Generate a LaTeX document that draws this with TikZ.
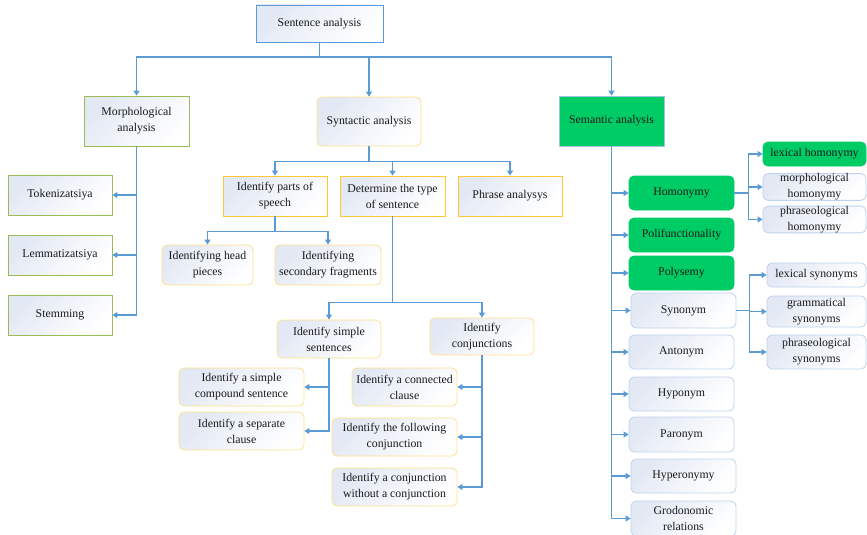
\documentclass[tikz,border=0pt]{standalone}
\usepackage{fontspec}
\setmainfont{Liberation Serif}
\usetikzlibrary{arrows.meta}
\definecolor{lblue}{HTML}{5B9BD5}
\definecolor{gradc}{HTML}{E2E8F4}
\definecolor{bgreen}{HTML}{9BBB59}
\definecolor{gold}{HTML}{FFC832}
\definecolor{lyell}{HTML}{FFE08A}
\definecolor{pblue}{HTML}{BDD3EE}
\definecolor{fgreen}{HTML}{00CC66}
\definecolor{txt}{HTML}{1A1A1A}
\begin{document}
\begin{tikzpicture}[x=1pt,y=-1pt,
  bx/.style={draw, top color=gradc, bottom color=white, shading angle=45, inner sep=0pt, align=center, text=txt, line width=0.8pt, font=\fontsize{11.8}{16}\selectfont},
  rd/.style={bx, rounded corners=5pt},
  gbx/.style={draw=fgreen, fill=fgreen, inner sep=0pt, align=center, text=txt, line width=0.8pt, font=\fontsize{11.8}{16}\selectfont},
  conn/.style={draw=lblue, line width=1.1pt, -{Triangle[length=5pt,width=6pt]}},
  wh/.style args={#1/#2}{minimum width=#1pt, minimum height=#2pt}
]
\useasboundingbox (0,0) rectangle (867,535);
% top
\node[bx, draw=lblue, wh=127/37] (sa) at (319.5,23.5) {Sentence analysis};
\node[bx, draw=bgreen, wh=105/50] (morph) at (136.5,121) {Morphological\\analysis};
\node[rd, draw=lyell, wh=104/49] (syn) at (369,121.5) {Syntactic analysis};
\node[gbx, draw=lblue!60, wh=105/50] (sem) at (611.5,121) {Semantic analysis};
% morphological
\node[bx, draw=bgreen, wh=104/40] (tok) at (60,195) {Tokenizatsiya};
\node[bx, draw=bgreen, wh=104/40] (lem) at (60,255) {Lemmatizatsiya};
\node[bx, draw=bgreen, wh=104/40] (stem) at (60,315) {Stemming};
% syntactic
\node[bx, draw=gold, wh=104/40] (ips) at (275,196) {Identify parts of\\speech};
\node[bx, draw=gold, wh=105/40] (dts) at (392.5,196) {Determine the type\\of sentence};
\node[bx, draw=gold, wh=104/40] (phr) at (510,196) {Phrase analysys};
\node[rd, draw=lyell, wh=91/40] (head) at (207.5,265) {Identifying head\\pieces};
\node[rd, draw=lyell, wh=106/40] (sec) at (328,265) {Identifying\\secondary fragments};
\node[rd, draw=lyell, wh=104/38] (simp) at (329,339) {Identify simple\\sentences};
\node[rd, draw=lyell, wh=104/37] (conj) at (482,336.5) {Identify\\conjunctions};
\node[rd, draw=lyell, wh=125/38] (comp) at (241.5,387) {Identify a simple\\compound sentence};
\node[rd, draw=lyell, wh=125/38] (sep) at (241.5,431) {Identify a separate\\clause};
\node[rd, draw=lyell, wh=105/38] (connc) at (404.5,387) {Identify a connected\\clause};
\node[rd, draw=lyell, wh=125/38] (foll) at (394.5,437) {Identify the following\\conjunction};
\node[rd, draw=lyell, wh=125/38] (without) at (394.5,487) {Identify a conjunction\\without a conjunction};
% semantic
\node[gbx, rounded corners=5pt, wh=105/34] (hom) at (681.5,193) {Homonymy};
\node[gbx, rounded corners=5pt, wh=105/34] (polf) at (681.5,235) {Polifunctionality};
\node[gbx, rounded corners=5pt, wh=105/34] (polys) at (681.5,273) {Polysemy};
\node[rd, draw=pblue, wh=105/35] (synn) at (683.5,310.5) {Synonym};
\node[rd, draw=pblue, wh=105/34] (ant) at (681.5,352) {Antonym};
\node[rd, draw=pblue, wh=105/34] (hyp) at (681.5,394) {Hyponym};
\node[rd, draw=pblue, wh=105/35] (par) at (681.5,434.5) {Paronym};
\node[rd, draw=pblue, wh=105/34] (hyper) at (683.5,476) {Hyperonymy};
\node[rd, draw=pblue, wh=105/35] (grod) at (683.5,518.5) {Grodonomic\\relations};
\node[gbx, rounded corners=5pt, wh=103/24] (lexh) at (814.5,154) {lexical homonymy};
\node[rd, draw=pblue, wh=103/26] (morh) at (814.5,187) {morphological\\homonymy};
\node[rd, draw=pblue, wh=103/25] (phrh) at (814.5,219.5) {phraseological\\homonymy};
\node[rd, draw=pblue, wh=99/24] (lexs) at (816.5,275) {lexical synonyms};
\node[rd, draw=pblue, wh=99/31] (gram) at (816.5,311.5) {grammatical\\synonyms};
\node[rd, draw=pblue, wh=99/34] (phrs) at (816.5,352) {phraseological\\synonyms};
% connectors
\coordinate (j0) at (319.5,57);
\draw[conn] (sa.south) -- (j0) -| (morph.north);
\draw[conn] (sa.south) -- (j0) -| (syn.north);
\draw[conn] (sa.south) -- (j0) -| (sem.north);
\foreach \c in {tok,lem,stem} \draw[conn] (morph.south) |- (\c.east);
\foreach \c in {ips,dts,phr} \draw[conn] (syn.south) -- ++(0,15) -| (\c.north);
\foreach \c in {head,sec} \draw[conn] (ips.south) -- ++(0,15) -| (\c.north);
\foreach \c in {simp,conj} \draw[conn] (dts.south) -- ++(0,86) -| (\c.north);
\foreach \c in {comp,sep} \draw[conn] (simp.south) |- (\c.east);
\foreach \c in {connc,foll,without} \draw[conn] (conj.south) |- (\c.east);
\foreach \c in {hom,polf,polys,synn,ant,hyp,par,hyper,grod} \draw[conn] (sem.south) |- (\c.west);
\foreach \c in {lexh,morh,phrh} \draw[conn] (hom.east) -- ++(14,0) |- (\c.west);
\foreach \c in {lexs,gram,phrs} \draw[conn] (synn.east) -- ++(13,0) |- (\c.west);
\end{tikzpicture}
\end{document}
